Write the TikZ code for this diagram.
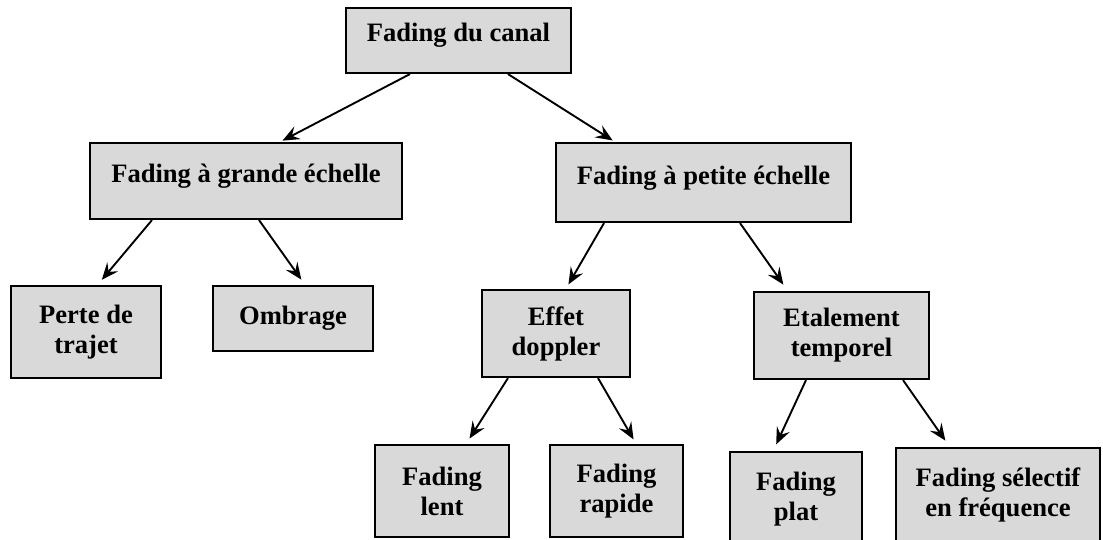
\documentclass[tikz,border=0pt]{standalone}
\usepackage{fontspec}
\setmainfont{Liberation Serif}
\usetikzlibrary{arrows.meta,calc}
\definecolor{boxgray}{RGB}{217,217,217}
\begin{document}
\begin{tikzpicture}[x=0.025cm,y=-0.025cm,
  box/.style={draw=black,line width=1.5pt,fill=boxgray,inner sep=0pt,align=center,
    font=\fontsize{18.9}{21.3}\selectfont\bfseries},
  uptext/.style={text depth=11pt},
  arr/.style={-{Stealth[length=12pt,width=10pt,inset=4.5pt]},line width=1.35pt,shorten >=2pt}]
\clip (0,0) rectangle (1103,539);

% Level 0
\node[box,uptext,minimum width=5.625cm,minimum height=1.625cm] (canal) at (458.5,40.5) {Fading du canal};

% Level 1
\node[box,uptext,minimum width=7.8cm,minimum height=1.9cm] (grande) at (246,181) {Fading à grande échelle};
\node[box,uptext,minimum width=7.375cm,minimum height=1.975cm] (petite) at (703.5,182.5) {Fading à petite échelle};

% Level 2
\node[box,minimum width=3.75cm,minimum height=2.3cm] (perte) at (86,332) {Perte de\\trajet};
\node[box,minimum width=4cm,minimum height=1.625cm] (ombrage) at (293,318.5) {Ombrage};
\node[box,minimum width=3.7cm,minimum height=2.175cm] (effet) at (556,333.5) {Effet\\doppler};
\node[box,minimum width=4.375cm,minimum height=2.175cm] (etal) at (841.5,335.5) {Etalement\\temporel};

% Level 3
\node[box,minimum width=3.35cm,minimum height=2.3cm] (lent) at (442,491) {Fading\\lent};
\node[box,minimum width=3.325cm,minimum height=2.3cm] (rapide) at (616.5,491) {Fading\\rapide};
\node[box,minimum width=3.3cm,minimum height=2.35cm] (plat) at (796,499) {Fading\\plat};
\node[box,minimum width=5.1cm,minimum height=2.35cm] (selectif) at (998,495) {Fading sélectif\\en fréquence};

% Arrows
\draw[arr] ($(canal.south)+(-48.5,0)$) -- ($(grande.north)+(34,0)$);
\draw[arr] ($(canal.south)+(49.5,0)$) -- ($(petite.north)+(-88.5,0)$);
\draw[arr] ($(grande.south)+(-94,0)$) -- ($(perte.north)+(14,-3)$);
\draw[arr] ($(grande.south)+(13,0)$) -- ($(ombrage.north)+(10,-3)$);
\draw[arr] ($(petite.south)+(-99.5,0)$) -- ($(effet.north)+(11,-2)$);
\draw[arr] ($(petite.south)+(36.5,0)$) -- ($(etal.north)+(-56.5,-4)$);
\draw[arr] ($(effet.south)+(-48,0)$) -- ($(lent.north)+(26,-3)$);
\draw[arr] ($(effet.south)+(42,0)$) -- ($(rapide.north)+(18.5,-2)$);
\draw[arr] ($(etal.south)+(-35.5,0)$) -- ($(plat.north)+(-21,-4)$);
\draw[arr] ($(etal.south)+(61.5,0)$) -- ($(selectif.north)+(-51,-4)$);
\end{tikzpicture}
\end{document}
